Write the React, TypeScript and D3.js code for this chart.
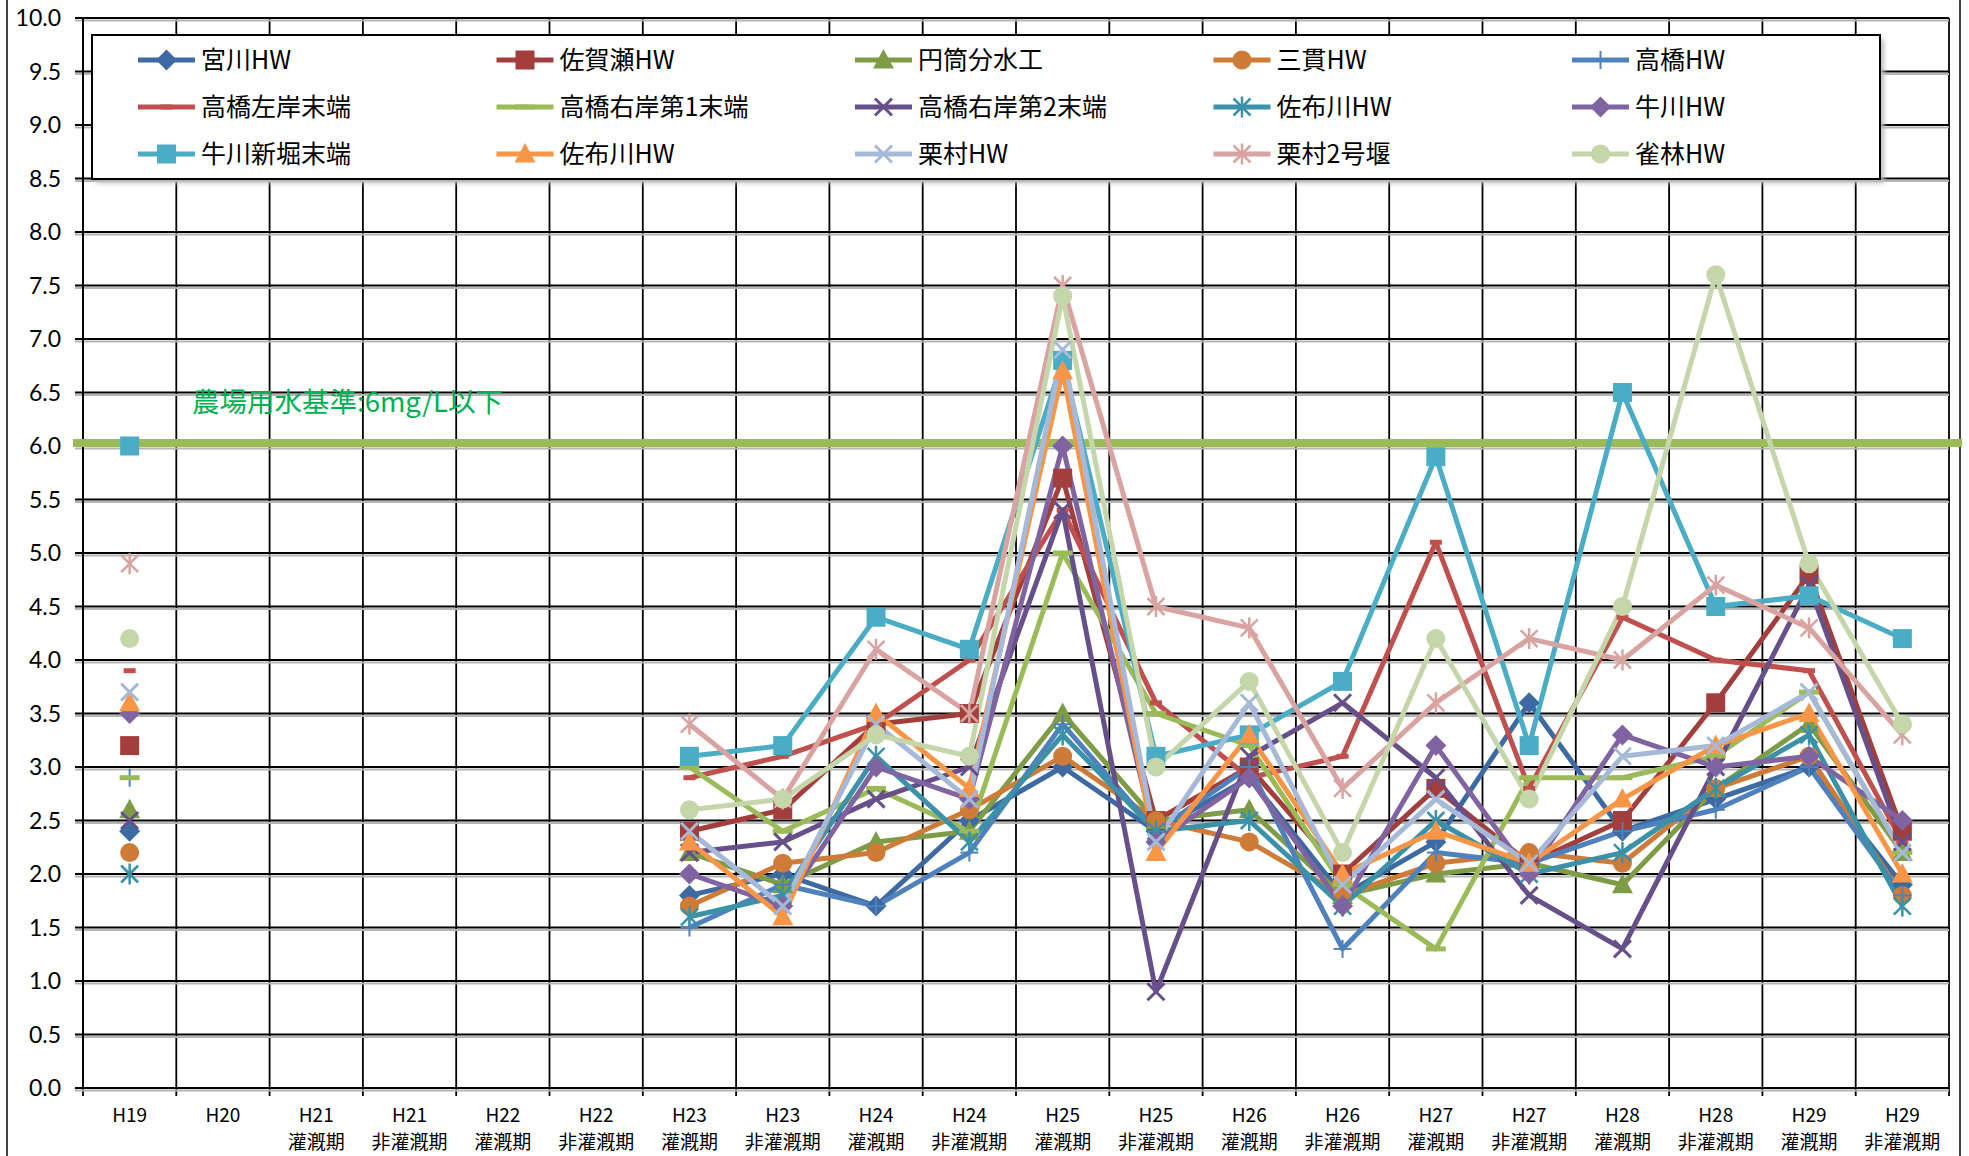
import React from 'react';
import * as d3 from 'd3';

// categories (x axis)
const years = ['H19', 'H20', 'H21', 'H21', 'H22', 'H22', 'H23', 'H23', 'H24', 'H24', 'H25', 'H25', 'H26', 'H26', 'H27', 'H27', 'H28', 'H28', 'H29', 'H29'];
const periods = ['', '', '灌漑期', '非灌漑期', '灌漑期', '非灌漑期', '灌漑期', '非灌漑期', '灌漑期', '非灌漑期', '灌漑期', '非灌漑期', '灌漑期', '非灌漑期', '灌漑期', '非灌漑期', '灌漑期', '非灌漑期', '灌漑期', '非灌漑期'];

const N = null;
// values (mg/L)
const miyagawa = [2.4, N, N, N, N, N, 1.8, 2.0, 1.7, 2.5, 3.0, 2.4, 2.9, 1.8, 2.3, 3.6, 2.4, 2.7, 3.0, 1.9];
const sagase = [3.2, N, N, N, N, N, 2.4, 2.6, 3.4, 3.5, 5.7, 2.5, 3.0, 2.0, 2.8, 2.1, 2.5, 3.6, 4.8, 2.4];
const entou = [2.6, N, N, N, N, N, 2.2, 1.9, 2.3, 2.4, 3.5, 2.5, 2.6, 1.8, 2.0, 2.1, 1.9, 2.8, 3.4, 2.2];
const mitsugi = [2.2, N, N, N, N, N, 1.7, 2.1, 2.2, 2.6, 3.1, 2.5, 2.3, 1.8, 2.1, 2.2, 2.1, 2.8, 3.1, 1.8];
const takahashi = [2.9, N, N, N, N, N, 1.5, 1.9, 1.7, 2.2, 3.4, 2.4, 3.0, 1.3, 2.2, 2.1, 2.4, 2.6, 3.0, 1.8];
const takaLeft = [3.9, N, N, N, N, N, 2.9, 3.1, 3.4, 4.0, 5.4, 3.6, 2.9, 3.1, 5.1, 2.8, 4.4, 4.0, 3.9, 2.3];
const takaRight1 = [2.9, N, N, N, N, N, 3.0, 2.4, 2.8, 2.4, 5.0, 3.5, 3.2, 1.9, 1.3, 2.9, 2.9, 3.1, 3.7, 2.2];
const takaRight2 = [2.5, N, N, N, N, N, 2.2, 2.3, 2.7, 3.0, 5.4, 0.9, 3.1, 3.6, 2.9, 1.8, 1.3, 3.0, 4.7, 2.3];
const sabugawa = [2.0, N, N, N, N, N, 1.6, 1.8, 3.1, 2.3, 3.3, 2.4, 2.5, 1.7, 2.5, 2.0, 2.2, 2.8, 3.3, 1.7];
const ushikawa = [3.5, N, N, N, N, N, 2.0, 1.7, 3.0, 2.7, 6.0, 2.3, 2.9, 1.7, 3.2, 2.0, 3.3, 3.0, 3.1, 2.5];
const ushiShinbori = [6.0, N, N, N, N, N, 3.1, 3.2, 4.4, 4.1, 6.8, 3.1, 3.3, 3.8, 5.9, 3.2, 6.5, 4.5, 4.6, 4.2];
const sabugawa2 = [3.6, N, N, N, N, N, 2.3, 1.6, 3.5, 2.8, 6.7, 2.2, 3.3, 2.0, 2.4, 2.1, 2.7, 3.2, 3.5, 2.0];
const kurimura = [3.7, N, N, N, N, N, 2.4, 1.7, 3.4, 2.7, 6.9, 2.3, 3.6, 1.9, 2.7, 2.1, 3.1, 3.2, 3.7, 2.2];
const kurimura2 = [4.9, N, N, N, N, N, 3.4, 2.7, 4.1, 3.5, 7.5, 4.5, 4.3, 2.8, 3.6, 4.2, 4.0, 4.7, 4.3, 3.3];
const suzumebayashi = [4.2, N, N, N, N, N, 2.6, 2.7, 3.3, 3.1, 7.4, 3.0, 3.8, 2.2, 4.2, 2.7, 4.5, 7.6, 4.9, 3.4];

const series = [
  { name: '宮川HW', values: miyagawa, color: '#3D6AA3', marker: 'diamond' },
  { name: '佐賀瀬HW', values: sagase, color: '#A23F3C', marker: 'square' },
  { name: '円筒分水工', values: entou, color: '#7E9B46', marker: 'triangle' },
  { name: '三貫HW', values: mitsugi, color: '#CD7B36', marker: 'circle' },
  { name: '高橋HW', values: takahashi, color: '#4F81BD', marker: 'plus' },
  { name: '高橋左岸末端', values: takaLeft, color: '#C0504D', marker: 'dash' },
  { name: '高橋右岸第1末端', values: takaRight1, color: '#9BBB59', marker: 'longdash' },
  { name: '高橋右岸第2末端', values: takaRight2, color: '#67508A', marker: 'x' },
  { name: '佐布川HW', values: sabugawa, color: '#3A91A8', marker: 'star' },
  { name: '牛川HW', values: ushikawa, color: '#8064A2', marker: 'diamond' },
  { name: '牛川新堀末端', values: ushiShinbori, color: '#4BACC6', marker: 'square' },
  { name: '佐布川HW', values: sabugawa2, color: '#F79646', marker: 'triangle' },
  { name: '栗村HW', values: kurimura, color: '#A7B9D8', marker: 'x' },
  { name: '栗村2号堰', values: kurimura2, color: '#D9A3A1', marker: 'star' },
  { name: '雀林HW', values: suzumebayashi, color: '#C4D6AA', marker: 'circle' },
];

const standard = 6.0;
const standardLabel = '農場用水基準:6mg/L以下';

const W = 1969;
const H = 1156;
const left = 83;
const right = 1949;
const top = 18;
const bottom = 1088;

const cjk = '"Noto Sans CJK JP", sans-serif';

function Marker({ type, color, cx, cy }: { type: string; color: string; cx: number; cy: number }) {
  switch (type) {
    case 'diamond':
      return <polygon points={`${cx},${cy - 10.5} ${cx + 10.5},${cy} ${cx},${cy + 10.5} ${cx - 10.5},${cy}`} fill={color} />;
    case 'square':
      return <rect x={cx - 9.5} y={cy - 9.5} width={19} height={19} fill={color} />;
    case 'triangle':
      return <polygon points={`${cx},${cy - 11} ${cx + 10.5},${cy + 8.5} ${cx - 10.5},${cy + 8.5}`} fill={color} />;
    case 'circle':
      return <circle cx={cx} cy={cy} r={9.5} fill={color} />;
    case 'plus':
      return (
        <g stroke={color} strokeWidth={2}>
          <line x1={cx - 9} x2={cx + 9} y1={cy} y2={cy} />
          <line x1={cx} x2={cx} y1={cy - 9} y2={cy + 9} />
        </g>
      );
    case 'dash':
      return <rect x={cx - 6} y={cy - 2.5} width={12} height={5} fill={color} />;
    case 'longdash':
      return <rect x={cx - 10} y={cy - 2.5} width={20} height={5} fill={color} />;
    case 'x':
      return (
        <g stroke={color} strokeWidth={3}>
          <line x1={cx - 8.5} x2={cx + 8.5} y1={cy - 8.5} y2={cy + 8.5} />
          <line x1={cx - 8.5} x2={cx + 8.5} y1={cy + 8.5} y2={cy - 8.5} />
        </g>
      );
    case 'star':
      return (
        <g stroke={color} strokeWidth={2.5}>
          <line x1={cx - 8.5} x2={cx + 8.5} y1={cy - 8.5} y2={cy + 8.5} />
          <line x1={cx - 8.5} x2={cx + 8.5} y1={cy + 8.5} y2={cy - 8.5} />
          <line x1={cx} x2={cx} y1={cy - 10.5} y2={cy + 10.5} />
        </g>
      );
    default:
      return null;
  }
}

export default function App() {
  const x = d3.scaleBand<number>().domain(d3.range(years.length)).range([left, right]);
  const cx = (i: number) => (x(i) as number) + x.bandwidth() / 2;
  const y = d3.scaleLinear().domain([0, 10]).range([bottom, top]);
  const yTicks = d3.range(0, 10.001, 0.5);

  const line = d3
    .line<number | null>()
    .defined((d) => d !== null)
    .x((_, i) => cx(i))
    .y((d) => y(d as number));

  // legend layout
  const legX = 92;
  const legY = 35;
  const legW = 1788;
  const legH = 144;
  const colStep = 358.5;
  const rowStep = 47;

  return (
    <svg width={W} height={H} style={{ position: 'absolute', left: 0, top: 0, background: '#fff' }}>
      <defs>
        <filter id="blur" x="-5%" y="-200%" width="110%" height="500%">
          <feGaussianBlur stdDeviation="2.5" />
        </filter>
      </defs>
      <rect width={W} height={H} fill="#fff" />
      {/* chart border */}
      <line x1={7} x2={7} y1={0} y2={H} stroke="#000" strokeWidth={1.5} />
      <line x1={1960} x2={1960} y1={0} y2={H} stroke="#000" strokeWidth={1.5} />

      {/* vertical gridlines */}
      {d3.range(years.length + 1).map((k) => {
        const gx = left + k * x.bandwidth();
        return <line key={'v' + k} x1={gx} x2={gx} y1={top} y2={bottom + 8} stroke="#000" strokeWidth={1.8} />;
      })}
      {/* horizontal gridlines */}
      {yTicks.map((t) => (
        <g key={'h' + t}>
          <line x1={left - 8} x2={right} y1={y(t) + 2.5} y2={y(t) + 2.5} stroke="#b5b5b5" strokeWidth={2} />
          <line x1={left - 8} x2={right} y1={y(t)} y2={y(t)} stroke="#000" strokeWidth={2.2} />
        </g>
      ))}
      <line x1={left} x2={left} y1={top} y2={bottom} stroke="#000" strokeWidth={2} />

      {/* y tick labels */}
      {yTicks.map((t) => (
        <text key={'yl' + t} x={61} y={y(t)} dy="0.36em" textAnchor="end" fontFamily="Lato, sans-serif" fontSize={23} fill="#000">
          {d3.format('.1f')(t)}
        </text>
      ))}

      {/* x tick labels */}
      {years.map((yr, i) => (
        <g key={'xl' + i} fontFamily={cjk} fontSize={19} fill="#000" textAnchor="middle">
          <text x={cx(i)} y={1122}>{yr}</text>
          <text x={cx(i)} y={1149}>{periods[i]}</text>
        </g>
      ))}

      {/* reference line */}
      <line x1={73} x2={1962} y1={y(standard) + 3} y2={y(standard) + 3} stroke="#000" strokeOpacity={0.35} strokeWidth={7} filter="url(#blur)" />
      <line x1={73} x2={1962} y1={y(standard) - 3} y2={y(standard) - 3} stroke="#9BBB59" strokeWidth={8} />
      <text x={192} y={y(6.5) + 12} fontFamily={cjk} fontSize={27.5} fill="#00B050" dominantBaseline="middle">
        {standardLabel}
      </text>

      {/* series lines */}
      {series.map((s, si) => (
        <path key={'l' + si} d={line(s.values) || ''} fill="none" stroke={s.color} strokeWidth={5} strokeLinejoin="round" />
      ))}
      {/* series markers */}
      {series.map((s, si) => (
        <g key={'m' + si}>
          {s.values.map((v, i) =>
            v === null ? null : <Marker key={i} type={s.marker} color={s.color} cx={cx(i)} cy={y(v)} />
          )}
        </g>
      ))}

      {/* legend */}
      <rect x={legX + 4} y={legY + 4} width={legW} height={legH} fill="#bbb" filter="url(#blur)" />
      <rect x={legX} y={legY} width={legW} height={legH} fill="#fff" stroke="#000" strokeWidth={2} />
      {series.map((s, si) => {
        const col = si % 5;
        const row = Math.floor(si / 5);
        const lx = 138 + col * colStep;
        const ly = 60 + row * rowStep;
        return (
          <g key={'lg' + si}>
            <line x1={lx} x2={lx + 57} y1={ly} y2={ly} stroke={s.color} strokeWidth={5} />
            <Marker type={s.marker} color={s.color} cx={lx + 28.5} cy={ly} />
            <text x={lx + 63} y={ly} dy="0.36em" fontFamily={cjk} fontSize={25} fill="#000">
              {s.name}
            </text>
          </g>
        );
      })}
    </svg>
  );
}
